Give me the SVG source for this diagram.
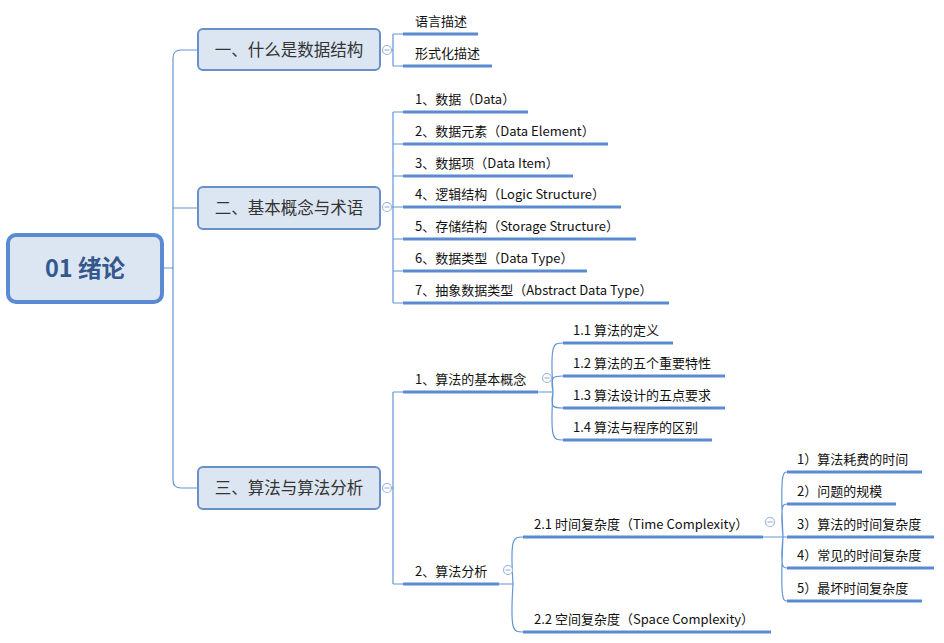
<svg xmlns="http://www.w3.org/2000/svg" width="944" height="643" viewBox="0 0 944 643">
<style>
.ln{fill:none;stroke:#6395D6;stroke-width:1.2}
.ul{fill:none;stroke:#5A8BD0;stroke-width:3}
.bx{fill:#DCE6F2;stroke:#6890C8;stroke-width:2}
.bt{font-family:"Noto Sans CJK SC","Noto Sans",sans-serif;font-size:16.5px;fill:#333;text-anchor:middle}
.t{font-family:"Noto Sans CJK SC","Noto Sans",sans-serif;font-size:13px;fill:#111}
.cc{fill:#fff;stroke:#9DB6DE;stroke-width:1.2}
.cm{stroke:#9DB6DE;stroke-width:1.2}
</style>
<defs>
<g id="col"><circle class="cc" cx="0" cy="0" r="4.5"/><line class="cm" x1="-2.5" y1="0" x2="2.5" y2="0"/></g>
</defs>
<rect width="944" height="643" fill="#fff"/>
<g id="connectors">
<path class="ln" d="M163,268 H173 M198,50 H181 Q173,50 173,58 V480 Q173,488 181,488 H198 M173,208 H198"/>
<path class="ln" d="M392,50 H393 M393,34 V66 M393,34 H403 M393,66 H403"/>
<path class="ln" d="M392,207 H393 M393,112 V303 M393,112 H403 M393,144 H403 M393,176 H403 M393,207 H403 M393,239 H403 M393,271 H403 M393,303 H403"/>
<path class="ln" d="M392,488 H393 M393,392 V584 M393,392 H403 M393,584 H403"/>
<path class="ln" d="M538,392 H553 M553,392 C550,343 553,343 563,343 M553,392 C550,376 553,376 563,376 M553,392 C550,408 553,408 563,408 M553,392 C550,440 553,440 563,440"/>
<path class="ln" d="M499,584 H513 M513,584 C510,537 513,537 523,537 M513,584 C510,632 513,632 523,632"/>
<path class="ln" d="M763,537 H787 M783,537 C780,472 783,472 787,472 M783,537 C780,504 783,504 787,504 M783,537 C780,568 783,568 787,568 M783,537 C780,601 783,601 787,601"/>
</g>
<g id="root">
<rect x="8" y="235" width="154" height="67" rx="8" fill="#DCE6F2" stroke="#5A8AD2" stroke-width="4"/>
<text x="85" y="277" font-family="'Noto Sans CJK SC','Noto Sans',sans-serif" font-size="23.5" font-weight="bold" fill="#34578C" text-anchor="middle">01 绪论</text>
</g>
<g id="b1">
<rect class="bx" x="198" y="29" width="182" height="41" rx="5"/>
<text class="bt" x="289" y="56">一、什么是数据结构</text>
<use href="#col" x="387" y="50"/>
</g>
<g id="b2">
<rect class="bx" x="198" y="187" width="182" height="42" rx="5"/>
<text class="bt" x="289" y="214">二、基本概念与术语</text>
<use href="#col" x="387" y="207"/>
</g>
<g id="b3">
<rect class="bx" x="198" y="467" width="182" height="42" rx="5"/>
<text class="bt" x="289" y="494">三、算法与算法分析</text>
<use href="#col" x="387" y="488"/>
</g>
<g id="n1a"><text class="t" x="415" y="26">语言描述</text><line class="ul" x1="403" y1="34" x2="478" y2="34"/></g>
<g id="n1b"><text class="t" x="415" y="58">形式化描述</text><line class="ul" x1="403" y1="66" x2="492" y2="66"/></g>
<g id="n2a"><text class="t" x="415" y="104">1、数据（Data）</text><line class="ul" x1="403" y1="112" x2="528" y2="112"/></g>
<g id="n2b"><text class="t" x="415" y="136">2、数据元素（Data Element）</text><line class="ul" x1="403" y1="144" x2="608" y2="144"/></g>
<g id="n2c"><text class="t" x="415" y="168">3、数据项（Data Item）</text><line class="ul" x1="403" y1="176" x2="573" y2="176"/></g>
<g id="n2d"><text class="t" x="415" y="199">4、逻辑结构（Logic Structure）</text><line class="ul" x1="403" y1="207" x2="621" y2="207"/></g>
<g id="n2e"><text class="t" x="415" y="231">5、存储结构（Storage Structure）</text><line class="ul" x1="403" y1="239" x2="636" y2="239"/></g>
<g id="n2f"><text class="t" x="415" y="263">6、数据类型（Data Type）</text><line class="ul" x1="403" y1="271" x2="587" y2="271"/></g>
<g id="n2g"><text class="t" x="415" y="295">7、抽象数据类型（Abstract Data Type）</text><line class="ul" x1="403" y1="303" x2="669" y2="303"/></g>
<g id="n31"><text class="t" x="415" y="384">1、算法的基本概念</text><line class="ul" x1="403" y1="392" x2="538" y2="392"/><use href="#col" x="547" y="378"/></g>
<g id="n311"><text class="t" x="573" y="335">1.1 算法的定义</text><line class="ul" x1="563" y1="343" x2="673" y2="343"/></g>
<g id="n312"><text class="t" x="573" y="368">1.2 算法的五个重要特性</text><line class="ul" x1="563" y1="376" x2="725" y2="376"/></g>
<g id="n313"><text class="t" x="573" y="400">1.3 算法设计的五点要求</text><line class="ul" x1="563" y1="408" x2="725" y2="408"/></g>
<g id="n314"><text class="t" x="573" y="432">1.4 算法与程序的区别</text><line class="ul" x1="563" y1="440" x2="712" y2="440"/></g>
<g id="n32"><text class="t" x="415" y="576">2、算法分析</text><line class="ul" x1="403" y1="584" x2="499" y2="584"/><use href="#col" x="508" y="570"/></g>
<g id="n321"><text class="t" x="534" y="529">2.1 时间复杂度（Time Complexity）</text><line class="ul" x1="523" y1="537" x2="763" y2="537"/><use href="#col" x="770" y="522"/></g>
<g id="n322"><text class="t" x="534" y="624">2.2 空间复杂度（Space Complexity）</text><line class="ul" x1="523" y1="632" x2="771" y2="632"/></g>
<g id="t1"><text class="t" x="797" y="464">1）算法耗费的时间</text><line class="ul" x1="787" y1="472" x2="922" y2="472"/></g>
<g id="t2"><text class="t" x="797" y="496">2）问题的规模</text><line class="ul" x1="787" y1="504" x2="896" y2="504"/></g>
<g id="t3"><text class="t" x="797" y="529">3）算法的时间复杂度</text><line class="ul" x1="787" y1="537" x2="934" y2="537"/></g>
<g id="t4"><text class="t" x="797" y="560">4）常见的时间复杂度</text><line class="ul" x1="787" y1="568" x2="934" y2="568"/></g>
<g id="t5"><text class="t" x="797" y="593">5）最坏时间复杂度</text><line class="ul" x1="787" y1="601" x2="922" y2="601"/></g>
</svg>
